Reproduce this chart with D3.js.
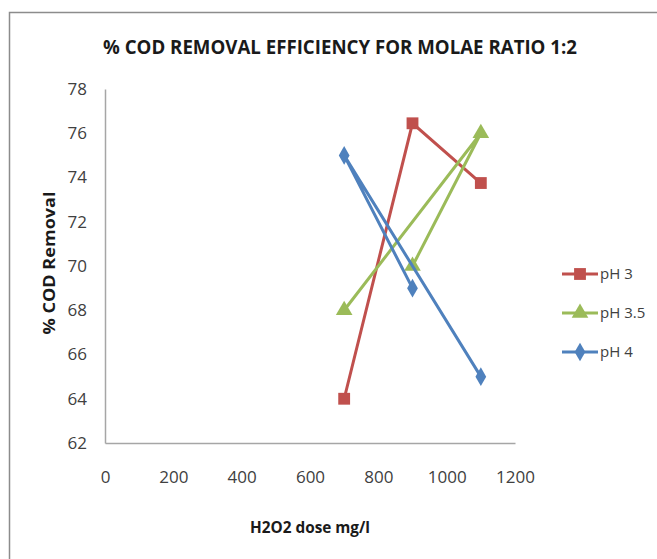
<!DOCTYPE html>
<meta charset="utf-8" />
<title>% COD removal</title>
<script src="https://d3js.org/d3.v7.min.js"></script>
<style>
  body { margin: 0; background: #fff; }
  svg { display: block; font-family: "Open Sans", "DejaVu Sans", sans-serif; }
</style>
<div id="chart"></div>
<script>
  // data, points listed in the order the lines join them
  var ph3Dose = [700, 900, 1100];
  var ph3Removal = [64, 76.45, 73.75];
  var ph35Dose = [700, 1100, 900];
  var ph35Removal = [68, 76, 70];
  var ph4Dose = [900, 700, 1100];
  var ph4Removal = [69, 75, 65];

  var seriesNames = ["pH 3", "pH 3.5", "pH 4"];
  var xTicks = [0, 200, 400, 600, 800, 1000, 1200];
  var yTicks = [62, 64, 66, 68, 70, 72, 74, 76, 78];

  var series = [
    { name: seriesNames[0], x: ph3Dose, y: ph3Removal, color: "#C0504D", shape: "square" },
    { name: seriesNames[1], x: ph35Dose, y: ph35Removal, color: "#9BBB59", shape: "triangle" },
    { name: seriesNames[2], x: ph4Dose, y: ph4Removal, color: "#4F81BD", shape: "diamond" }
  ];

  var width = 657, height = 559;
  var svg = d3.select("#chart").append("svg")
    .attr("width", width)
    .attr("height", height);

  // outer frame (cut off on the right and bottom like the screenshot)
  svg.append("rect")
    .attr("x", 9.5).attr("y", 12.5)
    .attr("width", 700).attr("height", 600)
    .attr("fill", "none")
    .attr("stroke", "#8c8c8c")
    .attr("stroke-width", 1.5);

  var x = d3.scaleLinear().domain([0, 1200]).range([105, 515]);
  var y = d3.scaleLinear().domain([62, 78]).range([443, 89]);

  // title
  svg.append("text")
    .attr("x", 340).attr("y", 54)
    .attr("text-anchor", "middle")
    .attr("font-size", 19)
    .attr("font-weight", "bold")
    .attr("fill", "#1a1a1a")
    .attr("textLength", 474)
    .attr("lengthAdjust", "spacingAndGlyphs")
    .text("% COD REMOVAL EFFICIENCY FOR MOLAE RATIO 1:2");

  // axes
  var xAxis = svg.append("g")
    .attr("transform", "translate(0," + y(62) + ")")
    .call(d3.axisBottom(x).tickValues(xTicks).tickFormat(d3.format("d")).tickSize(0).tickPadding(28));
  var yAxis = svg.append("g")
    .attr("transform", "translate(" + x(0) + ",0)")
    .call(d3.axisLeft(y).tickValues(yTicks).tickSize(0).tickPadding(18));

  [xAxis, yAxis].forEach(function (g) {
    g.attr("font-size", 17);
    g.select(".domain").attr("stroke", "#a6a6a6").attr("stroke-width", 1.5);
    g.selectAll("text")
      .attr("font-size", 17)
      .attr("fill", "#404040")
      .attr("font-family", "'Open Sans', sans-serif");
  });
  xAxis.selectAll("text").attr("dy", "0.71em");

  // axis titles
  svg.append("text")
    .attr("x", 310).attr("y", 533)
    .attr("text-anchor", "middle")
    .attr("font-size", 16)
    .attr("font-weight", "bold")
    .attr("fill", "#1a1a1a")
    .attr("textLength", 120)
    .attr("lengthAdjust", "spacingAndGlyphs")
    .text("H2O2 dose mg/l");

  svg.append("text")
    .attr("transform", "translate(55,263) rotate(-90)")
    .attr("text-anchor", "middle")
    .attr("font-size", 16)
    .attr("font-weight", "bold")
    .attr("fill", "#1a1a1a")
    .attr("textLength", 143)
    .attr("lengthAdjust", "spacingAndGlyphs")
    .text("% COD Removal");

  var symbolFor = {
    square: d3.symbol().type(d3.symbolSquare).size(140),
    triangle: d3.symbol().type(d3.symbolTriangle).size(120),
    diamond: d3.symbol().type(d3.symbolDiamond).size(100)
  };

  var line = d3.line()
    .x(function (d) { return x(d[0]); })
    .y(function (d) { return y(d[1]); });

  series.forEach(function (s) {
    var pts = s.x.map(function (v, i) { return [v, s.y[i]]; });
    svg.append("path")
      .datum(pts)
      .attr("d", line)
      .attr("fill", "none")
      .attr("stroke", s.color)
      .attr("stroke-width", 3);
    svg.selectAll(null)
      .data(pts)
      .enter().append("path")
      .attr("d", symbolFor[s.shape]())
      .attr("transform", function (d) { return "translate(" + x(d[0]) + "," + y(d[1]) + ")"; })
      .attr("fill", s.color);
  });

  // legend
  var legend = svg.append("g").attr("transform", "translate(562,274)");
  series.forEach(function (s, i) {
    var g = legend.append("g").attr("transform", "translate(0," + i * 39 + ")");
    g.append("line")
      .attr("x1", 0).attr("x2", 36)
      .attr("stroke", s.color)
      .attr("stroke-width", 3);
    g.append("path")
      .attr("d", symbolFor[s.shape]())
      .attr("transform", "translate(18,0)")
      .attr("fill", s.color);
    g.append("text")
      .attr("x", 38).attr("y", 0)
      .attr("dy", "0.35em")
      .attr("font-size", 15)
      .attr("fill", "#404040")
      .text(s.name);
  });
</script>
